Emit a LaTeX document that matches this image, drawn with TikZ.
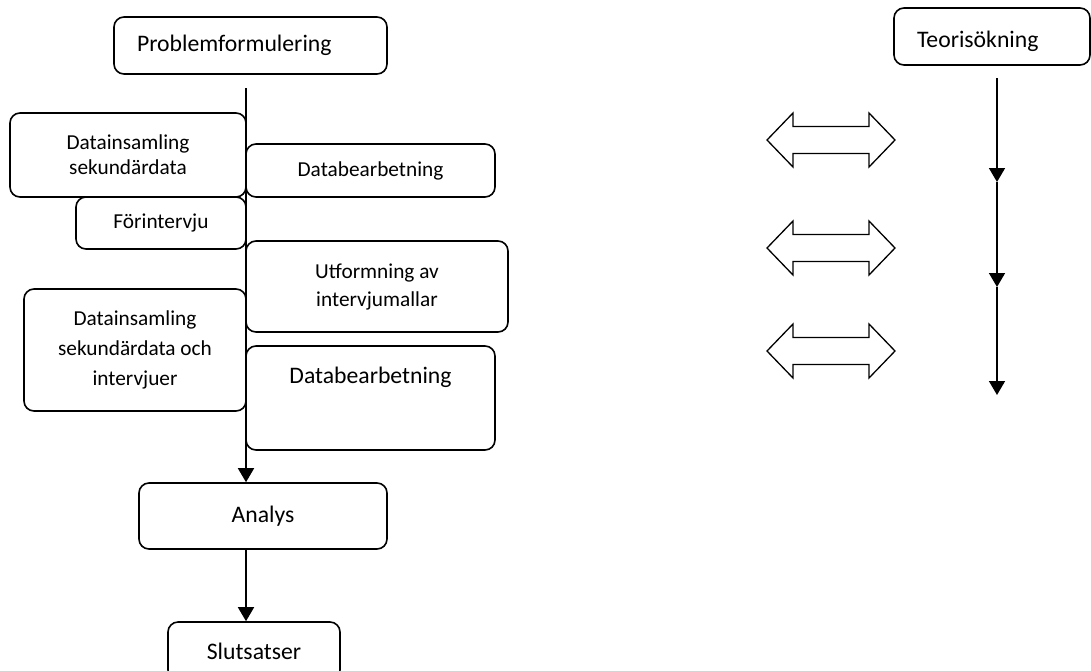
\documentclass[tikz,border=0pt]{standalone}
\usepackage{fontspec}
\setmainfont{Carlito}
\usetikzlibrary{arrows.meta}
\tikzset{
  box/.style={draw, line width=1.6pt, rounded corners=10pt, inner sep=0pt, align=center, fill=white},
  small/.style={font=\fontsize{21.3}{25}\selectfont},
  large/.style={font=\fontsize{23.7}{28}\selectfont},
  flow/.style={line width=1.6pt, -{Triangle[length=14pt,width=16pt]}},
  plain/.style={line width=1.6pt},
  dbl/.style={draw, line width=1.3pt, fill=white},
}
\begin{document}
\begin{tikzpicture}[x=1pt,y=-1pt]
\useasboundingbox (0,0) rectangle (1091,670);
\fill[white] (0,0) rectangle (1091,670);

% main vertical line
\coordinate (top) at (246,88);
\node[box, large, minimum width=248pt, minimum height=66pt] (an) at (263,516) {\raisebox{2pt}{Analys}};
\node[box, large, minimum width=172pt, minimum height=58pt] (sl) at (254,651) {Slutsatser};
\draw[flow] (top) -- (top |- an.north);
\draw[flow] (top |- an.south) -- (top |- sl.north);

% left column boxes
\node[box, large, minimum height=57pt, text width=227pt, align=left, inner xsep=23pt] (pf) at (250.5,45.5) {Problemformulering};
\node[box, small, minimum width=236pt, minimum height=84pt] (ds1) at (128,155) {Datainsamling\\sekundärdata};
\node[box, small, minimum width=249pt, minimum height=53pt] (db1) at (370.5,170.5) {Databearbetning};
\node[box, small, minimum width=170pt, minimum height=52pt] (fi) at (161,223) {Förintervju};
\node[box, font=\fontsize{21.3}{28}\selectfont, minimum width=262pt, minimum height=91pt] (uf) at (377,286.5) {Utformning av\\intervjumallar};
\node[box, font=\fontsize{21.3}{30}\selectfont, minimum width=222pt, minimum height=122pt] (ds2) at (135,350) {Datainsamling\\sekundärdata och\\intervjuer};
\node[box, large, minimum width=249pt, minimum height=104pt, text height=18pt, text depth=48pt] (db2) at (370.5,398) {Databearbetning};

% the line runs along the box edges
\draw[plain] (top) -- (246,475);

% right column
\node[box, large, minimum height=57pt, text width=150pt, align=left, inner xsep=23pt, text height=21pt, text depth=0pt] (ts) at (992,36.5) {Teorisökning};
\coordinate (r0) at (997,78);
\coordinate (r1) at (997,182);
\coordinate (r2) at (997,287);
\coordinate (r3) at (997,395);
\draw[flow] (r0) -- (r1);
\draw[flow] (r1) -- (r2);
\draw[flow] (r2) -- (r3);

% double arrows
\foreach \cy in {140,248,351}{
  \draw[dbl] (767,\cy) -- (793,\cy-27) -- (793,\cy-13.5) -- (869,\cy-13.5) -- (869,\cy-27)
    -- (895,\cy) -- (869,\cy+27) -- (869,\cy+13.5) -- (793,\cy+13.5) -- (793,\cy+27) -- cycle;
}
\end{tikzpicture}
\end{document}
